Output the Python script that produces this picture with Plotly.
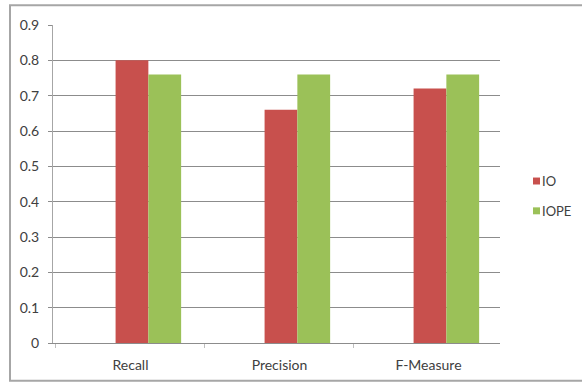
import plotly.graph_objects as go

# Evaluation metrics for the two methods
metrics = ["Recall", "Precision", "F-Measure"]
io_scores = [0.80, 0.66, 0.72]
iope_scores = [0.76, 0.76, 0.76]
y_ticks = [0, 0.1, 0.2, 0.3, 0.4, 0.5, 0.6, 0.7, 0.8, 0.9]
y_tick_labels = ["0", "0.1", "0.2", "0.3", "0.4", "0.5", "0.6", "0.7", "0.8", "0.9"]

RED = "#C8504D"
GREEN = "#9BC158"
TEXT = "#404040"
FONT = "Lato"

fig = go.Figure()
fig.add_trace(go.Bar(name="IO", x=metrics, y=io_scores, marker_color=RED,
                     marker_line_width=0, width=0.22, offset=-0.1))
fig.add_trace(go.Bar(name="IOPE", x=metrics, y=iope_scores, marker_color=GREEN,
                     marker_line_width=0, width=0.22, offset=0.12))

# Outer frame around the chart
W, H = 582, 385
ml, mr, mt, mb = 53, 82, 25, 40
pw, ph = W - ml - mr, H - mt - mb


def px_x(x):
    return (x - ml) / pw


def px_y(y):
    return (H - mb - y) / ph


shapes = [dict(type="rect", xref="paper", yref="paper",
               x0=px_x(10), x1=px_x(590), y0=px_y(383), y1=px_y(5),
               line=dict(color="#A6A6A6", width=2), layer="below")]

# Hand-made legend: small squares with labels to the right of the plot
annotations = []
for i, (name, col) in enumerate([("IO", RED), ("IOPE", GREEN)]):
    cy = 182 + i * 30
    shapes.append(dict(type="rect", xref="paper", yref="paper",
                       x0=px_x(533), x1=px_x(540), y0=px_y(cy + 3.5), y1=px_y(cy - 3.5),
                       fillcolor=col, line=dict(width=0)))
    annotations.append(dict(xref="paper", yref="paper", x=px_x(540), y=px_y(cy),
                            xanchor="left", yanchor="middle", text=name, showarrow=False,
                            font=dict(family=FONT, size=13, color=TEXT)))

fig.update_layout(
    width=W, height=H,
    margin=dict(l=ml, r=mr, t=mt, b=mb),
    paper_bgcolor="white", plot_bgcolor="white",
    showlegend=False,
    barmode="overlay",
    font=dict(family=FONT, size=14, color=TEXT),
    shapes=shapes,
    annotations=annotations,
    xaxis=dict(
        type="category", range=[-0.52, 2.48],
        showgrid=False, showline=True, linecolor="#8C8C8C", linewidth=1,
        ticks="outside", tickson="boundaries", ticklen=4, tickcolor="#BFBFBF",
        ticklabelstandoff=9, tickfont=dict(size=14, color=TEXT),
    ),
    yaxis=dict(
        range=[0, 0.9], tickvals=y_ticks, ticktext=y_tick_labels,
        showgrid=True, gridcolor="#8C8C8C", gridwidth=1,
        showline=True, linecolor="#A6A6A6", linewidth=1,
        ticks="outside", ticklen=4, tickcolor="#8C8C8C",
        ticklabelstandoff=6, tickfont=dict(size=14, color=TEXT),
        zeroline=False,
    ),
)

fig.write_html("out.html")
